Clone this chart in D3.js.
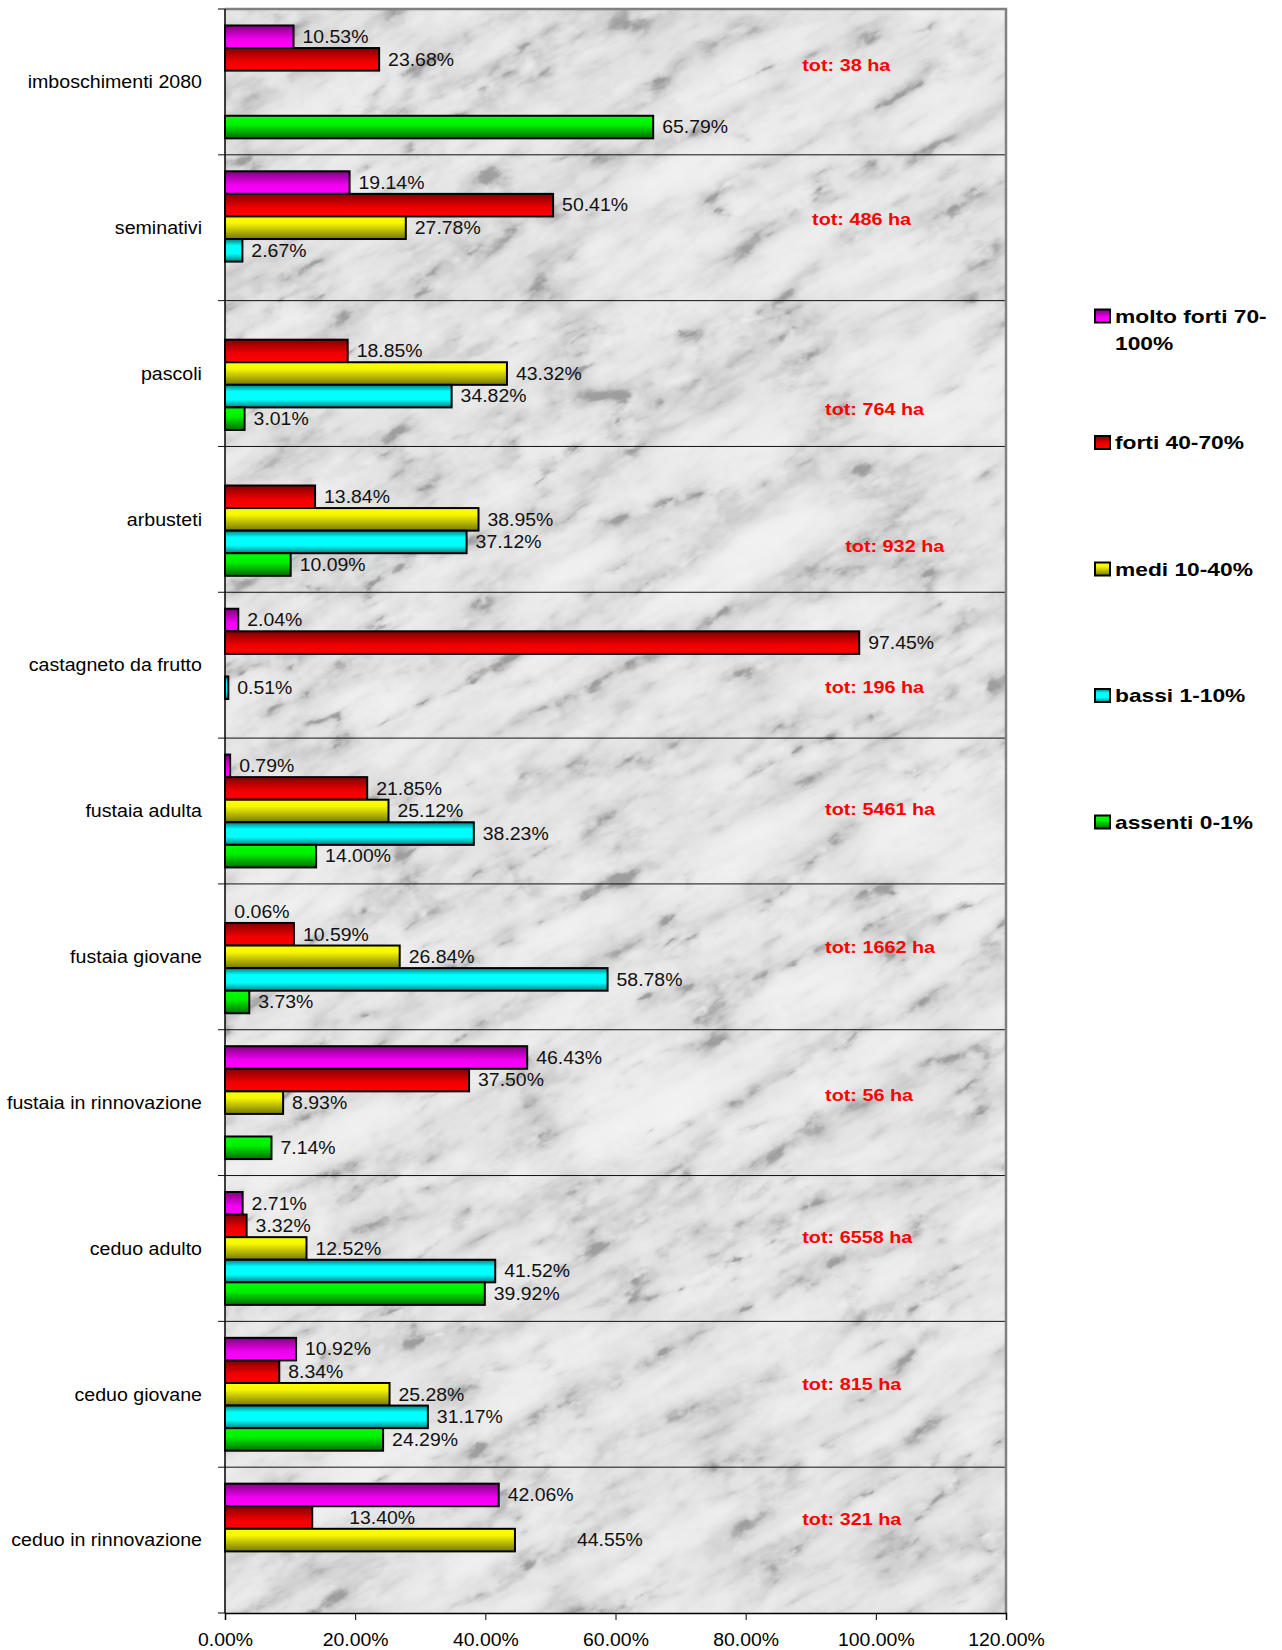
<!DOCTYPE html>
<html>
<head>
    <title>Classi di danno per uso del suolo</title>
    <script src="https://d3js.org/d3.v7.min.js"></script>
    <style>
        body { margin: 0; background: #fff; }
        text { font-family: "Liberation Sans", Arial, sans-serif; }
    </style>
</head>
<body>
    <svg width="1282" height="1650"></svg>

    <script>
    // data (percent of area per class)
    const categories = ["imboschimenti 2080", "seminativi", "pascoli", "arbusteti", "castagneto da frutto",
        "fustaia adulta", "fustaia giovane", "fustaia in rinnovazione", "ceduo adulto", "ceduo giovane",
        "ceduo in rinnovazione"];
    const seriesNames = ["molto forti 70-100%", "forti 40-70%", "medi 10-40%", "bassi 1-10%", "assenti 0-1%"];
    const moltoForti = [10.53, 19.14, null, null, 2.04, 0.79, 0.06, 46.43, 2.71, 10.92, 42.06];
    const forti      = [23.68, 50.41, 18.85, 13.84, 97.45, 21.85, 10.59, 37.50, 3.32, 8.34, 13.40];
    const medi       = [null, 27.78, 43.32, 38.95, null, 25.12, 26.84, 8.93, 12.52, 25.28, 44.55];
    const bassi      = [null, 2.67, 34.82, 37.12, 0.51, 38.23, 58.78, null, 41.52, 31.17, null];
    const assenti    = [65.79, null, 3.01, 10.09, null, 14.00, 3.73, 7.14, 39.92, 24.29, null];
    const totals     = [38, 486, 764, 932, 196, 5461, 1662, 56, 6558, 815, 321];
    const xTicks     = [0, 20, 40, 60, 80, 100, 120];

    const seriesValues = [moltoForti, forti, medi, bassi, assenti];

    // where the "tot" notes sit: x in percent, y as share of the category band
    const totAtX = [88.7, 90.2, 92.2, 95.3, 92.2, 92.2, 92.2, 92.2, 88.7, 88.7, 88.7];
    const totAtY = [0.384, 0.44, 0.743, 0.683, 0.65, 0.486, 0.433, 0.448, 0.421, 0.429, 0.355];
    // two labels were dragged away from their bars in the original
    const labelShift = { "ceduo in rinnovazione|1": 28, "ceduo in rinnovazione|2": 53 };

    const gradients = [
        [[0, "#800080"], [0.6, "#f000f0"], [1, "#ff00ff"]],
        [[0, "#800000"], [0.6, "#f00000"], [1, "#ff0000"]],
        [[0, "#ffff00"], [0.3, "#f6f600"], [1, "#767600"]],
        [[0, "#007f7f"], [0.3, "#00ffff"], [0.65, "#00ffff"], [1, "#007f7f"]],
        [[0, "#00ff00"], [0.4, "#00f000"], [1, "#006e00"]]
    ];

    const svg = d3.select("svg");
    const pLeft = 225, pRight = 1006, pTop = 9, pBottom = 1613;

    const x = d3.scaleLinear().domain([0, 120]).range([pLeft, pRight]);
    const y0 = d3.scaleBand().domain(categories).range([pTop, pBottom]);
    const y1 = d3.scaleBand().domain(d3.range(5)).range([0, y0.bandwidth()])
        .paddingInner(0).paddingOuter(0.73);

    // stretch text horizontally like the original rendering
    function stretch(sel, k) {
        sel.each(function() {
            const w = this.getComputedTextLength();
            d3.select(this).attr("textLength", w * k).attr("lengthAdjust", "spacingAndGlyphs");
        });
    }

    const defs = svg.append("defs");
    gradients.forEach((stops, i) => {
        const g = defs.append("linearGradient").attr("id", "g" + i)
            .attr("x1", 0).attr("y1", 0).attr("x2", 0).attr("y2", 1);
        stops.forEach(s => g.append("stop").attr("offset", s[0]).attr("stop-color", s[1]));
    });

    // marble texture for the plot area: veins + mottling, tilted
    const f = defs.append("filter").attr("id", "marble")
        .attr("x", 0).attr("y", 0).attr("width", 1).attr("height", 1)
        .attr("color-interpolation-filters", "sRGB");
    f.append("feTurbulence").attr("type", "turbulence")
        .attr("baseFrequency", "0.005 0.016").attr("numOctaves", 5).attr("seed", 11)
        .attr("result", "veins");
    f.append("feTurbulence").attr("type", "fractalNoise")
        .attr("baseFrequency", "0.04 0.06").attr("numOctaves", 4).attr("seed", 3)
        .attr("result", "mottle");
    f.append("feComposite").attr("in", "veins").attr("in2", "mottle")
        .attr("operator", "arithmetic")
        .attr("k1", 0).attr("k2", 0.9).attr("k3", 0.2).attr("k4", -0.05)
        .attr("result", "mix");
    f.append("feColorMatrix").attr("in", "mix").attr("type", "matrix")
        .attr("values", "0.33 0.33 0.33 0 0  0.33 0.33 0.33 0 0  0.33 0.33 0.33 0 0  0 0 0 0 1");
    const ct = f.append("feComponentTransfer");
    ["feFuncR", "feFuncG", "feFuncB"].forEach(fn =>
        ct.append(fn).attr("type", "table")
            .attr("tableValues", "0.62 0.8 0.88 0.92 0.94 0.95 0.96 0.96 0.97"));

    defs.append("clipPath").attr("id", "plotClip")
        .append("rect")
        .attr("x", pLeft).attr("y", pTop)
        .attr("width", pRight - pLeft).attr("height", pBottom - pTop);

    const cx = (pLeft + pRight) / 2, cy = (pTop + pBottom) / 2;
    svg.append("g").attr("clip-path", "url(#plotClip)")
        .append("g").attr("transform", `rotate(-28 ${cx} ${cy})`)
        .append("rect")
        .attr("x", cx - 1000).attr("y", cy - 1000)
        .attr("width", 2000).attr("height", 2000)
        .attr("fill", "#eee")
        .attr("filter", "url(#marble)");

    // category separators
    svg.append("g").selectAll("line")
        .data(categories.slice(1))
        .join("line")
        .attr("x1", pLeft - 7).attr("x2", pRight)
        .attr("y1", d => y0(d)).attr("y2", d => y0(d))
        .attr("stroke", "#111").attr("stroke-width", 1);

    // plot frame: grey top/right
    svg.append("path")
        .attr("d", `M${pLeft},${pTop}H${pRight}V${pBottom}`)
        .attr("fill", "none").attr("stroke", "#808080").attr("stroke-width", 2.5);

    // bars
    const rows = [];
    categories.forEach((c, ci) => {
        seriesValues.forEach((vals, si) => {
            if (vals[ci] != null) rows.push({ cat: c, s: si, v: vals[ci] });
        });
    });

    const bars = svg.append("g");
    bars.selectAll("rect")
        .data(rows.filter(d => x(d.v) - x(0) >= 1))
        .join("rect")
        .attr("x", x(0))
        .attr("y", d => y0(d.cat) + y1(d.s))
        .attr("width", d => x(d.v) - x(0))
        .attr("height", y1.bandwidth())
        .attr("fill", d => "url(#g" + d.s + ")")
        .attr("stroke", "#000").attr("stroke-width", 2);

    bars.selectAll("text")
        .data(rows)
        .join("text")
        .attr("x", d => x(d.v) + 9 + (labelShift[d.cat + "|" + d.s] || 0))
        .attr("y", d => y0(d.cat) + y1(d.s) + y1.bandwidth() / 2)
        .attr("dy", "0.36em")
        .style("font-size", "17.5px")
        .attr("fill", "#111")
        .text(d => d.v.toFixed(2) + "%")
        .call(stretch, 1.11);

    // tot notes
    svg.append("g").selectAll("text")
        .data(categories)
        .join("text")
        .attr("x", (d, i) => x(totAtX[i]))
        .attr("y", (d, i) => y0(d) + totAtY[i] * y0.bandwidth())
        .attr("dy", "0.36em")
        .style("font-size", "16.5px").style("font-weight", "bold")
        .attr("fill", "#ff0000")
        .text((d, i) => "tot: " + totals[i] + " ha")
        .call(stretch, 1.2);

    // y axis
    const yAxis = svg.append("g");
    yAxis.append("line")
        .attr("x1", pLeft).attr("x2", pLeft).attr("y1", pTop).attr("y2", pBottom)
        .attr("stroke", "#000").attr("stroke-width", 1.5);
    yAxis.selectAll("line.tick")
        .data([pTop, pBottom])
        .join("line").attr("class", "tick")
        .attr("x1", pLeft - 7).attr("x2", pLeft)
        .attr("y1", d => d).attr("y2", d => d)
        .attr("stroke", "#000");
    yAxis.selectAll("text")
        .data(categories)
        .join("text")
        .attr("x", 202)
        .attr("y", d => y0(d) + y0.bandwidth() / 2)
        .attr("dy", "0.36em")
        .attr("text-anchor", "end")
        .style("font-size", "17.5px")
        .attr("fill", "#000")
        .text(d => d)
        .call(stretch, 1.12);

    // x axis
    const xAxis = svg.append("g")
        .attr("transform", `translate(0,${pBottom})`)
        .call(d3.axisBottom(x).tickValues(xTicks).tickSize(7).tickPadding(14)
            .tickFormat(d => d3.format(".2%")(d / 100)));
    xAxis.select(".domain").attr("stroke", "#000").attr("stroke-width", 1.5);
    xAxis.selectAll(".tick line").attr("stroke", "#000");
    xAxis.selectAll(".tick text")
        .style("font-size", "17.5px")
        .style("font-family", "'Liberation Sans', Arial, sans-serif")
        .attr("fill", "#000")
        .call(stretch, 1.11);

    // legend
    const legend = svg.append("g");
    const ly = d3.scalePoint().domain(d3.range(5)).range([316, 822]);
    const item = legend.selectAll("g")
        .data(seriesNames)
        .join("g")
        .attr("transform", (d, i) => `translate(1095,${ly(i)})`);
    item.append("rect")
        .attr("x", 0).attr("y", -6.5).attr("width", 15).attr("height", 13)
        .attr("fill", (d, i) => "url(#g" + i + ")")
        .attr("stroke", "#000").attr("stroke-width", 2);
    item.append("text")
        .attr("x", 20).attr("y", 0)
        .style("font-size", "18.5px").style("font-weight", "bold")
        .attr("fill", "#000")
        .each(function(d) {
            const parts = d === "molto forti 70-100%" ? ["molto forti 70-", "100%"] : [d];
            const t = d3.select(this);
            parts.forEach((p, k) => {
                t.append("tspan").attr("x", 20).attr("dy", k === 0 ? "0.36em" : "27px").text(p);
            });
        });
    item.selectAll("tspan").each(function() {
        const w = this.getComputedTextLength();
        d3.select(this).attr("textLength", w * 1.23).attr("lengthAdjust", "spacingAndGlyphs");
    });
    </script>
</body>
</html>
